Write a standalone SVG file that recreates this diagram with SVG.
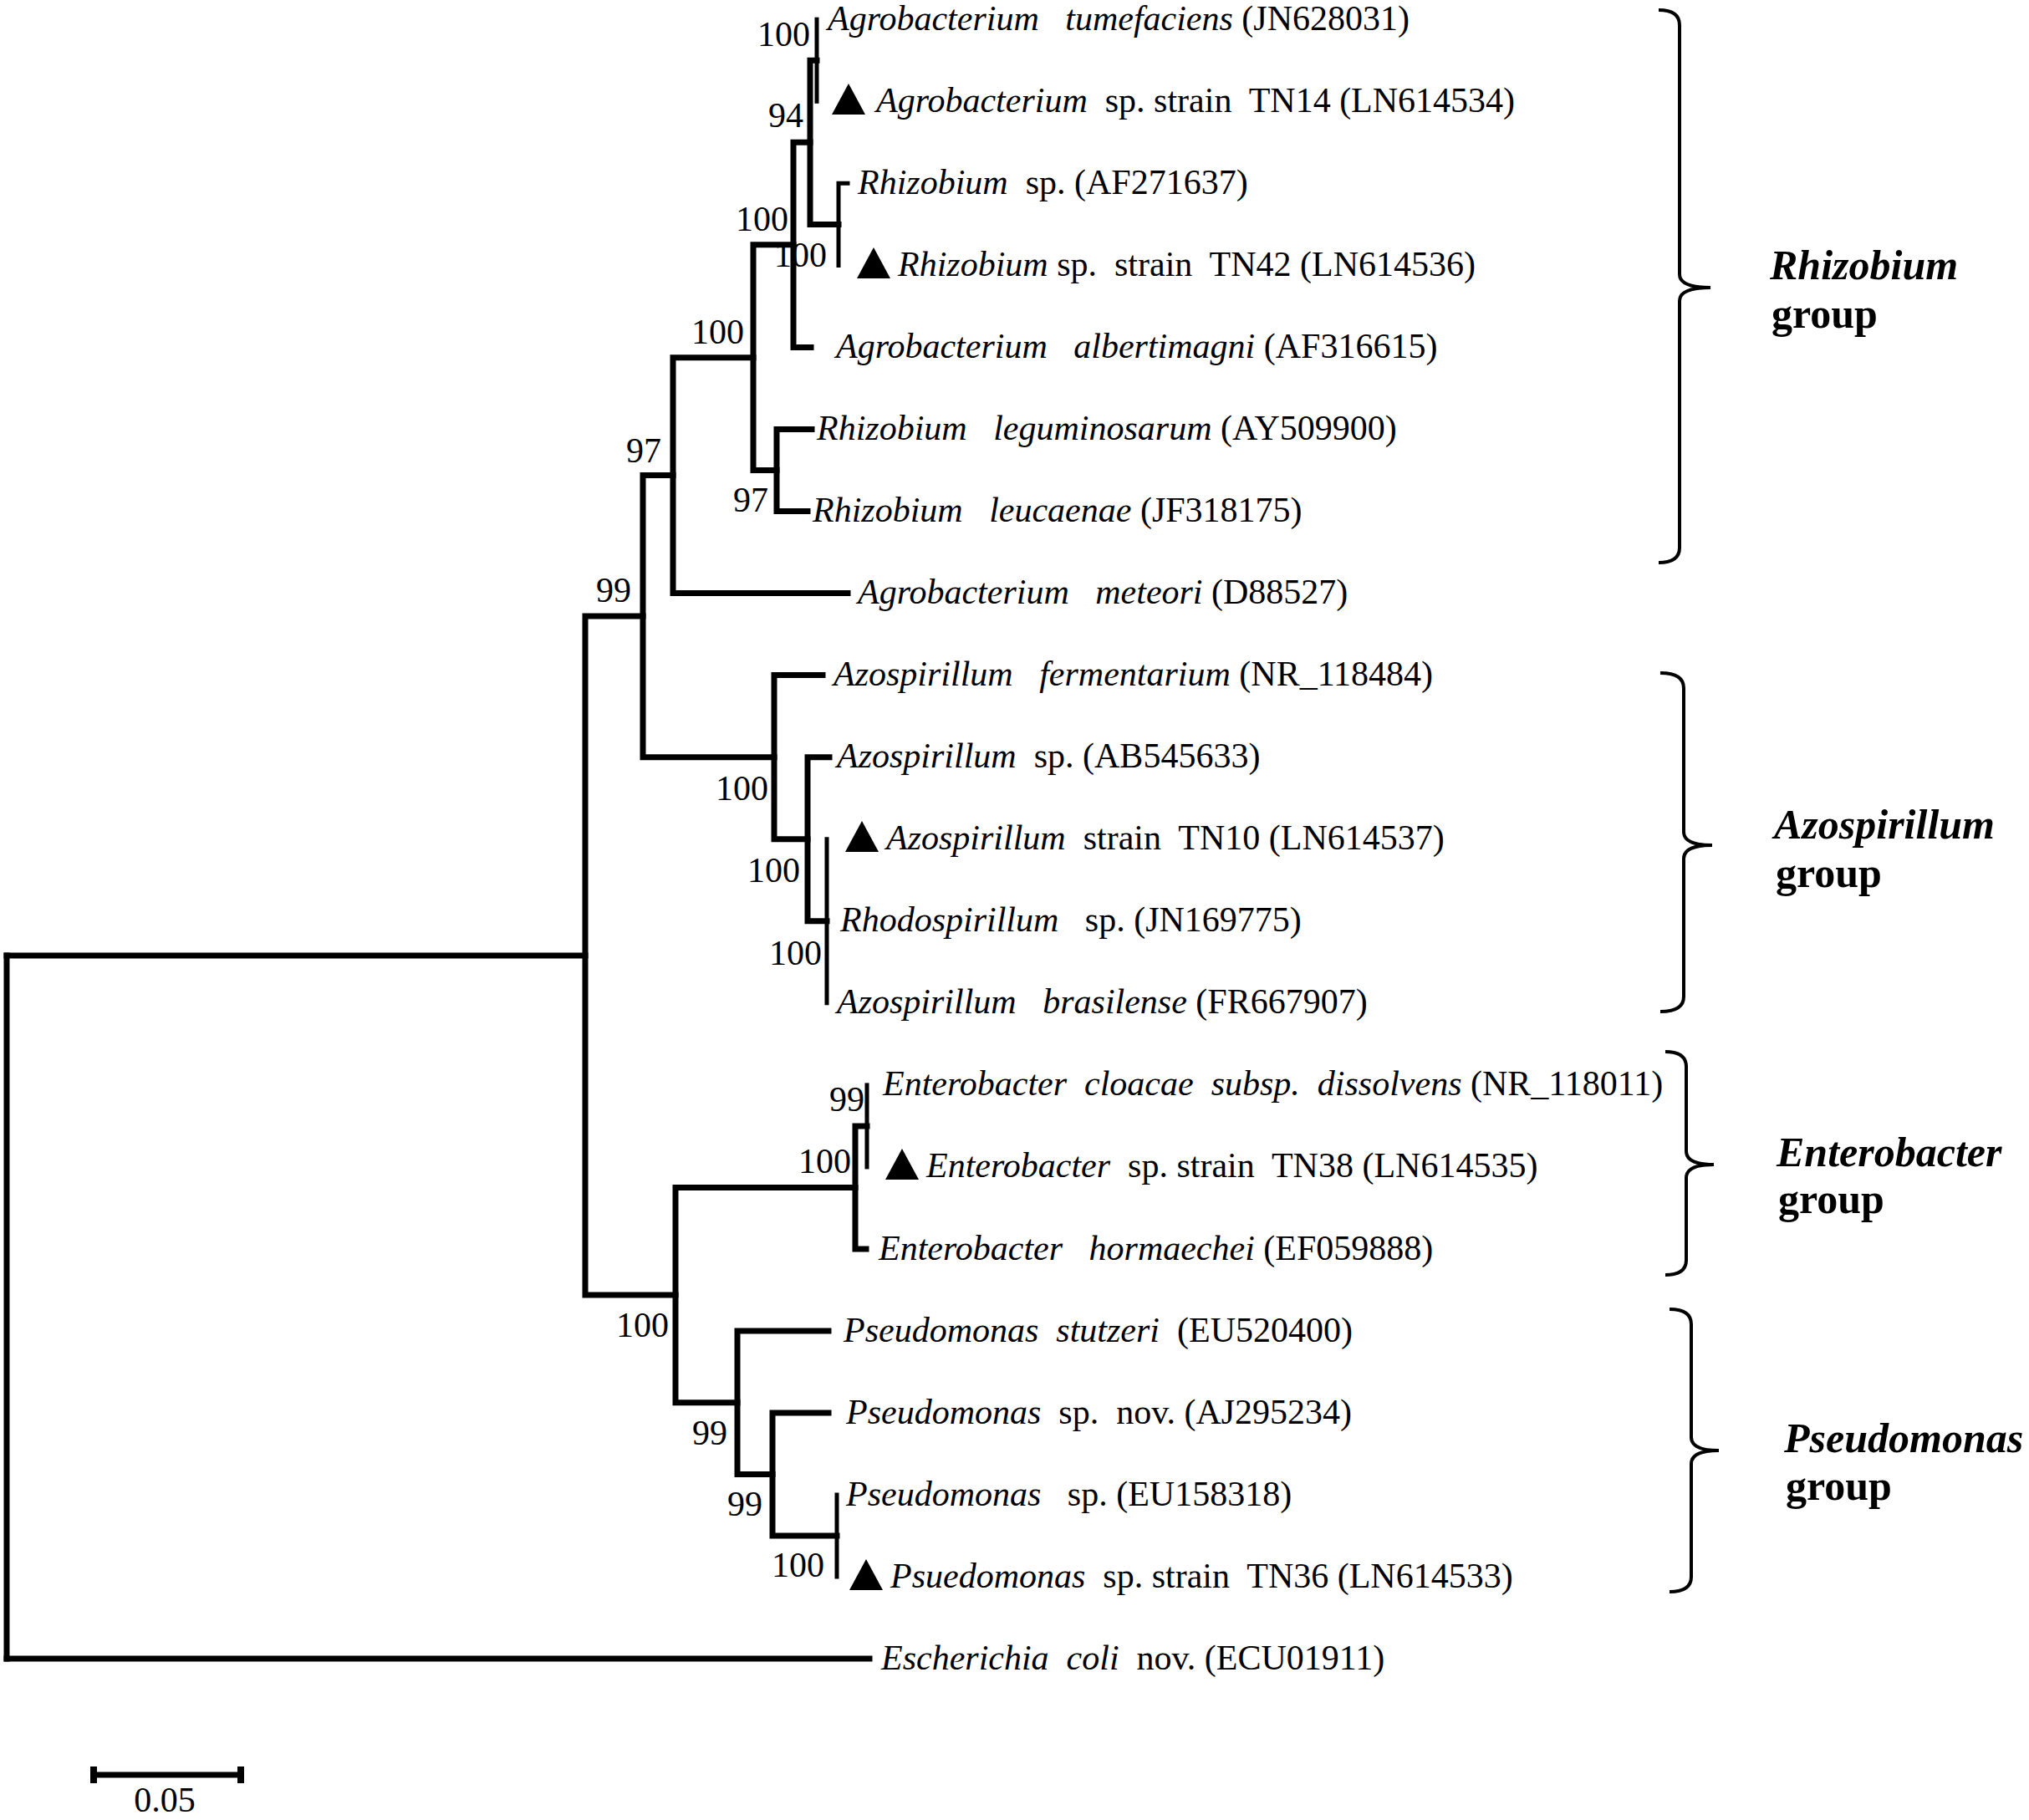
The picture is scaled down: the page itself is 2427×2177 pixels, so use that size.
<svg xmlns="http://www.w3.org/2000/svg" width="2427" height="2177" viewBox="0 0 2427 2177">
<defs>
<style>
.br{stroke:#000;stroke-width:7;fill:none;stroke-linecap:square}
.thin{stroke-width:5}
.bk{stroke:#000;stroke-width:4;fill:none}
.t{font-family:"Liberation Serif","Times New Roman",serif;font-size:42px;fill:#000}
.i{font-style:italic}
.bs{font-family:"Liberation Serif","Times New Roman",serif;font-size:42px;fill:#000;text-anchor:end}
.g{font-family:"Liberation Serif","Times New Roman",serif;font-size:50px;font-weight:bold;fill:#000}
</style>
<path id="tri" d="M0,0 L40,0 L20,-37 Z" fill="#000"/>
</defs>
<rect width="2427" height="2177" fill="#fff"/>

<g id="connectors">
<path class="br" d="M8,1143 V1560 M8,1567 V1984"/>
<path class="br" d="M8,1143 H700 M8,1984 H1040"/>
<path class="br" d="M700,737 V1549 M700,737 H769 M700,1549 H808"/>
<path class="br" d="M769,568.6 V905.7 M769,568.6 H805 M769,905.7 H926"/>
<path class="br" d="M805,427.7 V709.6 M805,427.7 H901 M805,709.6 H1014"/>
<path class="br" d="M901,292.8 V562.5 M901,292.8 H949 M901,562.5 H929"/>
<path class="br" d="M949,170.3 V415.4 M949,170.3 H969 M949,415.4 H970"/>
<path class="br" d="M969,72.2 V268.4 M969,72.2 H977 M969,268.4 H1003"/>
<path class="br thin" d="M977,23.2 V121.3"/>
<path class="br thin" d="M1003,219.3 V317.4 M1003,219.3 H1014"/>
<path class="br" d="M929,513.5 V611.5 M929,513.5 H971 M929,611.5 H966"/>
<path class="br" d="M926,807.6 V1003.7 M926,807.6 H984 M926,1003.7 H966"/>
<path class="br" d="M966,905.7 V1101.8 M966,905.7 H992 M966,1101.8 H989"/>
<path class="br thin" d="M989,1003.7 V1199.8"/>
<path class="br" d="M808,1420.4 V1677.8 M808,1420.4 H1023 M808,1677.8 H882"/>
<path class="br" d="M1023,1346.9 V1494 M1023,1346.9 H1037 M1023,1494 H1036"/>
<path class="br thin" d="M1037,1297.9 V1395.9"/>
<path class="br" d="M882,1592 V1763.5 M882,1592 H991 M882,1763.5 H924"/>
<path class="br" d="M924,1690 V1837 M924,1690 H991 M924,1837 H1001"/>
<path class="br thin" d="M1001,1788 V1886"/>
</g>

<g id="bootstrap">
<text class="bs" x="969" y="55">100</text>
<text class="bs" x="961" y="152">94</text>
<text class="bs" x="943" y="276">100</text>
<text class="bs" x="989" y="319">100</text>
<text class="bs" x="890" y="411">100</text>
<text class="bs" x="791" y="553">97</text>
<text class="bs" x="919" y="612">97</text>
<text class="bs" x="755" y="720">99</text>
<text class="bs" x="919" y="957">100</text>
<text class="bs" x="957" y="1055">100</text>
<text class="bs" x="983" y="1154">100</text>
<text class="bs" x="1034" y="1329">99</text>
<text class="bs" x="1018" y="1403">100</text>
<text class="bs" x="800" y="1599">100</text>
<text class="bs" x="870" y="1728">99</text>
<text class="bs" x="912" y="1813">99</text>
<text class="bs" x="986" y="1886">100</text>
</g>

<g id="leaf-1"><text class="t" x="990" y="36" xml:space="preserve"><tspan class="i">Agrobacterium   tumefaciens</tspan> (JN628031)</text></g>
<g id="leaf-2"><use href="#tri" x="995" y="137"/><text class="t" x="1048" y="134" xml:space="preserve"><tspan class="i">Agrobacterium</tspan>  sp. strain  TN14 (LN614534)</text></g>
<g id="leaf-3"><text class="t" x="1026" y="232" xml:space="preserve"><tspan class="i">Rhizobium</tspan>  sp. (AF271637)</text></g>
<g id="leaf-4"><use href="#tri" x="1025" y="333"/><text class="t" x="1074" y="330" xml:space="preserve"><tspan class="i">Rhizobium</tspan> sp.  strain  TN42 (LN614536)</text></g>
<g id="leaf-5"><text class="t" x="1000" y="428" xml:space="preserve"><tspan class="i">Agrobacterium   albertimagni</tspan> (AF316615)</text></g>
<g id="leaf-6"><text class="t" x="977" y="526" xml:space="preserve"><tspan class="i">Rhizobium   leguminosarum</tspan> (AY509900)</text></g>
<g id="leaf-7"><text class="t" x="972" y="624" xml:space="preserve"><tspan class="i">Rhizobium   leucaenae</tspan> (JF318175)</text></g>
<g id="leaf-8"><text class="t" x="1026" y="722" xml:space="preserve"><tspan class="i">Agrobacterium   meteori</tspan> (D88527)</text></g>
<g id="leaf-9"><text class="t" x="997" y="820" xml:space="preserve"><tspan class="i">Azospirillum   fermentarium</tspan> (NR_118484)</text></g>
<g id="leaf-10"><text class="t" x="1001" y="918" xml:space="preserve"><tspan class="i">Azospirillum</tspan>  sp. (AB545633)</text></g>
<g id="leaf-11"><use href="#tri" x="1011" y="1019"/><text class="t" x="1060" y="1016" xml:space="preserve"><tspan class="i">Azospirillum</tspan>  strain  TN10 (LN614537)</text></g>
<g id="leaf-12"><text class="t" x="1005" y="1114" xml:space="preserve"><tspan class="i">Rhodospirillum</tspan>   sp. (JN169775)</text></g>
<g id="leaf-13"><text class="t" x="1001" y="1212" xml:space="preserve"><tspan class="i">Azospirillum   brasilense</tspan> (FR667907)</text></g>
<g id="leaf-14"><text class="t" x="1056" y="1310" xml:space="preserve"><tspan class="i">Enterobacter  cloacae  subsp.  dissolvens</tspan> (NR_118011)</text></g>
<g id="leaf-15"><use href="#tri" x="1059" y="1411"/><text class="t" x="1108" y="1408" xml:space="preserve"><tspan class="i">Enterobacter</tspan>  sp. strain  TN38 (LN614535)</text></g>
<g id="leaf-16"><text class="t" x="1051" y="1507" xml:space="preserve"><tspan class="i">Enterobacter   hormaechei</tspan> (EF059888)</text></g>
<g id="leaf-17"><text class="t" x="1009" y="1605" xml:space="preserve"><tspan class="i">Pseudomonas  stutzeri</tspan>  (EU520400)</text></g>
<g id="leaf-18"><text class="t" x="1012" y="1703" xml:space="preserve"><tspan class="i">Pseudomonas</tspan>  sp.  nov. (AJ295234)</text></g>
<g id="leaf-19"><text class="t" x="1012" y="1801" xml:space="preserve"><tspan class="i">Pseudomonas</tspan>   sp. (EU158318)</text></g>
<g id="leaf-20"><use href="#tri" x="1016" y="1902"/><text class="t" x="1065" y="1899" xml:space="preserve"><tspan class="i">Psuedomonas</tspan>  sp. strain  TN36 (LN614533)</text></g>
<g id="leaf-21"><text class="t" x="1054" y="1997" xml:space="preserve"><tspan class="i">Escherichia  coli</tspan>  nov. (ECU01911)</text></g>

<g id="group-rhizobium">
<path class="bk" d="M1984,12 Q2009,12 2009,30 V328 Q2009,344 2046,344 M2009,360 Q2009,344 2046,344 M2009,360 V655 Q2009,673 1984,673"/>
<text class="g" x="2117" y="334" font-style="italic">Rhizobium</text>
<text class="g" x="2119" y="392">group</text>
</g>
<g id="group-azospirillum">
<path class="bk" d="M1986,805 Q2014,805 2014,823 V995 Q2014,1011 2048,1011 M2014,1027 Q2014,1011 2048,1011 M2014,1027 V1192 Q2014,1210 1986,1210"/>
<text class="g" x="2122" y="1003" font-style="italic">Azospirillum</text>
<text class="g" x="2124" y="1061">group</text>
</g>
<g id="group-enterobacter">
<path class="bk" d="M1992,1258 Q2017,1258 2017,1276 V1377 Q2017,1393 2050,1393 M2017,1409 Q2017,1393 2050,1393 M2017,1409 V1507 Q2017,1525 1992,1525"/>
<text class="g" x="2125" y="1395" font-style="italic">Enterobacter</text>
<text class="g" x="2127" y="1451">group</text>
</g>
<g id="group-pseudomonas">
<path class="bk" d="M1997,1566 Q2023,1566 2023,1584 V1719 Q2023,1735 2056,1735 M2023,1751 Q2023,1735 2056,1735 M2023,1751 V1886 Q2023,1904 1997,1904"/>
<text class="g" x="2134" y="1737" font-style="italic">Pseudomonas</text>
<text class="g" x="2136" y="1794">group</text>
</g>

<g id="scalebar">
<path class="br" d="M112,2123 H288" style="stroke-linecap:butt"/>
<path d="M112,2113 V2133 M288,2113 V2133" style="stroke:#000;stroke-width:8;fill:none"/>
<text class="t" x="197" y="2167" text-anchor="middle">0.05</text>
</g>
</svg>
